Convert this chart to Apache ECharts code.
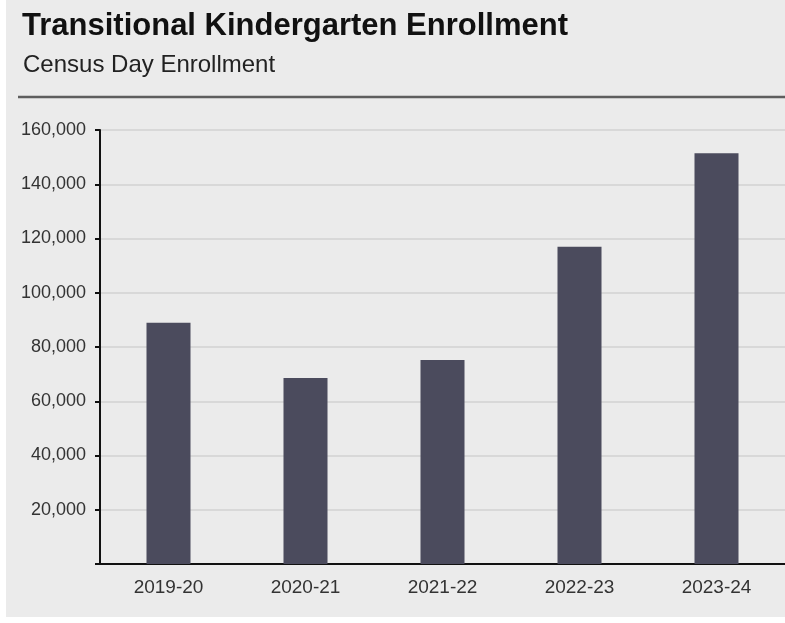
<!DOCTYPE html>
<html>
<head>
<meta charset="utf-8">
<script src="https://cdn.jsdelivr.net/npm/echarts@6/dist/echarts.min.js"></script>
<style>
  html, body { margin: 0; padding: 0; background: #fff; }
  #main { width: 785px; height: 623px; }
</style>
</head>
<body>
<div id="main"></div>
<script>
// data
var years = ['2019-20', '2020-21', '2021-22', '2022-23', '2023-24'];
var enrollment = [88900, 68600, 75200, 117000, 151400];
var yTicks = [0, 20000, 40000, 60000, 80000, 100000, 120000, 140000, 160000];

var chart = echarts.init(document.getElementById('main'));

var option = {
    animation: false,
    backgroundColor: '#ffffff',
    graphic: [
        { type: 'rect', z: -10, silent: true,
          shape: { x: 6, y: 0, width: 779, height: 617 },
          style: { fill: '#ebebeb' } },
        { type: 'line', silent: true,
          shape: { x1: 18, y1: 97, x2: 785, y2: 97 },
          style: { stroke: '#5e5e5e', lineWidth: 2.5 } }
    ],
    title: [
        { text: 'Transitional Kindergarten Enrollment', left: 22, top: 11, padding: 0,
          textStyle: { fontFamily: 'Liberation Sans', fontWeight: 'bold', fontSize: 31, color: '#111' } },
        { text: 'Census Day Enrollment', left: 23, top: 53, padding: 0,
          textStyle: { fontFamily: 'Liberation Sans', fontWeight: 'normal', fontSize: 24, color: '#222' } }
    ],
    grid: { left: 100, top: 130, bottom: 59, width: 694, containLabel: false },
    xAxis: {
        type: 'category',
        data: years,
        axisLine: { lineStyle: { color: '#111', width: 2 } },
        axisTick: { show: false },
        axisLabel: { margin: 14, fontFamily: 'Liberation Sans', fontSize: 19, color: '#333' }
    },
    yAxis: {
        type: 'value',
        min: yTicks[0],
        max: yTicks[yTicks.length - 1],
        interval: yTicks[1] - yTicks[0],
        axisLine: { show: true, lineStyle: { color: '#111', width: 2 } },
        axisTick: { show: true, inside: false, length: 5, lineStyle: { color: '#111', width: 2 } },
        axisLabel: {
            margin: 14, fontFamily: 'Liberation Sans', fontSize: 18, color: '#333',
            formatter: function (v) { return v === 0 ? '' : v.toLocaleString('en-US'); }
        },
        splitLine: { lineStyle: { color: '#d2d2d2', width: 1.5 } }
    },
    series: [{
        type: 'bar',
        data: enrollment,
        barWidth: 44,
        itemStyle: { color: '#4b4b5d' }
    }]
};

chart.setOption(option);
</script>
</body>
</html>
